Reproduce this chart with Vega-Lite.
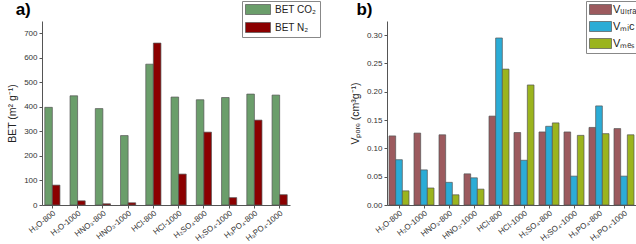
{
  "$schema": "https://vega.github.io/schema/vega-lite/v6.json",
  "padding": {"left": 7, "top": 0, "right": 0, "bottom": 0},
  "background": "white",
  "spacing": 29,
  "resolve": {"scale": {"color": "independent", "x": "independent", "xOffset": "independent", "y": "independent"}, "legend": {"color": "independent"}},
  "config": {
    "view": {"stroke": null},
    "font": "Liberation Sans",
    "axis": {"labelFont": "Liberation Sans", "titleFont": "Liberation Sans", "labelColor": "#333", "titleColor": "#222", "domainColor": "#555", "tickColor": "#555", "labelFontSize": 8, "titleFontSize": 10.5, "titleFontWeight": "normal", "grid": false, "tickSize": 3},
    "legend": {"labelFont": "Liberation Sans", "labelFontSize": 10, "labelColor": "#222"},
    "title": {"font": "Liberation Sans", "fontSize": 17, "fontWeight": "bold", "anchor": "start", "frame": "bounds", "offset": -18}
  },
  "datasets": {
    "bet": [
      {"sample": "H₂O-800", "series": "BET CO₂", "value": 398},
      {"sample": "H₂O-800", "series": "BET N₂", "value": 81},
      {"sample": "H₂O-1000", "series": "BET CO₂", "value": 445},
      {"sample": "H₂O-1000", "series": "BET N₂", "value": 17},
      {"sample": "HNO₃-800", "series": "BET CO₂", "value": 393},
      {"sample": "HNO₃-800", "series": "BET N₂", "value": 5},
      {"sample": "HNO₃-1000", "series": "BET CO₂", "value": 283},
      {"sample": "HNO₃-1000", "series": "BET N₂", "value": 9},
      {"sample": "HCl-800", "series": "BET CO₂", "value": 574},
      {"sample": "HCl-800", "series": "BET N₂", "value": 660},
      {"sample": "HCl-1000", "series": "BET CO₂", "value": 440},
      {"sample": "HCl-1000", "series": "BET N₂", "value": 126},
      {"sample": "H₂SO₄-800", "series": "BET CO₂", "value": 429},
      {"sample": "H₂SO₄-800", "series": "BET N₂", "value": 297},
      {"sample": "H₂SO₄-1000", "series": "BET CO₂", "value": 438},
      {"sample": "H₂SO₄-1000", "series": "BET N₂", "value": 30},
      {"sample": "H₃PO₄-800", "series": "BET CO₂", "value": 452},
      {"sample": "H₃PO₄-800", "series": "BET N₂", "value": 346},
      {"sample": "H₃PO₄-1000", "series": "BET CO₂", "value": 448},
      {"sample": "H₃PO₄-1000", "series": "BET N₂", "value": 42}
    ],
    "vpore": [
      {"sample": "H₂O-800", "series": "Vᵤₗₜᵣₐ", "value": 0.122},
      {"sample": "H₂O-800", "series": "Vₘᵢc", "value": 0.080},
      {"sample": "H₂O-800", "series": "Vₘₑₛ", "value": 0.025},
      {"sample": "H₂O-1000", "series": "Vᵤₗₜᵣₐ", "value": 0.127},
      {"sample": "H₂O-1000", "series": "Vₘᵢc", "value": 0.062},
      {"sample": "H₂O-1000", "series": "Vₘₑₛ", "value": 0.030},
      {"sample": "HNO₃-800", "series": "Vᵤₗₜᵣₐ", "value": 0.124},
      {"sample": "HNO₃-800", "series": "Vₘᵢc", "value": 0.040},
      {"sample": "HNO₃-800", "series": "Vₘₑₛ", "value": 0.018},
      {"sample": "HNO₃-1000", "series": "Vᵤₗₜᵣₐ", "value": 0.055},
      {"sample": "HNO₃-1000", "series": "Vₘᵢc", "value": 0.048},
      {"sample": "HNO₃-1000", "series": "Vₘₑₛ", "value": 0.028},
      {"sample": "HCl-800", "series": "Vᵤₗₜᵣₐ", "value": 0.157},
      {"sample": "HCl-800", "series": "Vₘᵢc", "value": 0.295},
      {"sample": "HCl-800", "series": "Vₘₑₛ", "value": 0.240},
      {"sample": "HCl-1000", "series": "Vᵤₗₜᵣₐ", "value": 0.128},
      {"sample": "HCl-1000", "series": "Vₘᵢc", "value": 0.079},
      {"sample": "HCl-1000", "series": "Vₘₑₛ", "value": 0.212},
      {"sample": "H₂SO₄-800", "series": "Vᵤₗₜᵣₐ", "value": 0.129},
      {"sample": "H₂SO₄-800", "series": "Vₘᵢc", "value": 0.139},
      {"sample": "H₂SO₄-800", "series": "Vₘₑₛ", "value": 0.145},
      {"sample": "H₂SO₄-1000", "series": "Vᵤₗₜᵣₐ", "value": 0.129},
      {"sample": "H₂SO₄-1000", "series": "Vₘᵢc", "value": 0.051},
      {"sample": "H₂SO₄-1000", "series": "Vₘₑₛ", "value": 0.123},
      {"sample": "H₃PO₄-800", "series": "Vᵤₗₜᵣₐ", "value": 0.137},
      {"sample": "H₃PO₄-800", "series": "Vₘᵢc", "value": 0.175},
      {"sample": "H₃PO₄-800", "series": "Vₘₑₛ", "value": 0.126},
      {"sample": "H₃PO₄-1000", "series": "Vᵤₗₜᵣₐ", "value": 0.135},
      {"sample": "H₃PO₄-1000", "series": "Vₘᵢc", "value": 0.051},
      {"sample": "H₃PO₄-1000", "series": "Vₘₑₛ", "value": 0.124}
    ]
  },
  "hconcat": [
    {
      "title": {"text": "a)", "dx": 8},
      "width": 248,
      "height": 184,
      "data": {"name": "bet"},
      "mark": {"type": "bar", "stroke": "#555", "strokeWidth": 0.7},
      "encoding": {
        "x": {"field": "sample", "type": "nominal", "sort": null, "title": null,
              "scale": {"paddingInner": 0.4, "paddingOuter": 0.11},
              "axis": {"labelAngle": -38, "ticks": true, "labelPadding": 1}},
        "xOffset": {"field": "series", "type": "nominal", "sort": ["BET CO₂", "BET N₂"]},
        "y": {"field": "value", "type": "quantitative", "title": "BET (m² g⁻¹)",
              "scale": {"domain": [0, 750], "nice": false},
              "axis": {"values": [0, 100, 200, 300, 400, 500, 600, 700], "titlePadding": 6}},
        "color": {"field": "series", "type": "nominal",
                  "scale": {"domain": ["BET CO₂", "BET N₂"], "range": ["#6b9e6b", "#8b0000"]},
                  "legend": {"title": null, "orient": "none", "legendX": 200, "legendY": -20,
                             "symbolType": "M-1,-1H4V1H-1Z", "symbolSize": 100,
                             "symbolStrokeColor": "#555", "symbolStrokeWidth": 0.7,
                             "strokeColor": "#888", "padding": 3, "rowPadding": 5, "labelOffset": 19}}
      }
    },
    {
      "title": {"text": "b)", "dx": 6},
      "width": 249,
      "height": 184,
      "data": {"name": "vpore"},
      "mark": {"type": "bar", "stroke": "#555", "strokeWidth": 0.7},
      "encoding": {
        "x": {"field": "sample", "type": "nominal", "sort": null, "title": null,
              "scale": {"paddingInner": 0.2, "paddingOuter": 0.08},
              "axis": {"labelAngle": -38, "ticks": true, "labelPadding": 1}},
        "xOffset": {"field": "series", "type": "nominal", "sort": ["Vᵤₗₜᵣₐ", "Vₘᵢc", "Vₘₑₛ"]},
        "y": {"field": "value", "type": "quantitative", "title": "Vₚₒᵣₑ (cm³g⁻¹)",
              "scale": {"domain": [0, 0.325], "nice": false},
              "axis": {"values": [0, 0.05, 0.1, 0.15, 0.2, 0.25, 0.3], "format": ".2f", "titlePadding": 6}},
        "color": {"field": "series", "type": "nominal",
                  "scale": {"domain": ["Vᵤₗₜᵣₐ", "Vₘᵢc", "Vₘₑₛ"], "range": ["#9c5a5e", "#2bacd6", "#9bb41e"]},
                  "legend": {"title": null, "orient": "none", "legendX": 199, "legendY": -20,
                             "symbolType": "M-1,-1H3.4V1H-1Z", "symbolSize": 100,
                             "symbolStrokeColor": "#555", "symbolStrokeWidth": 0.7,
                             "strokeColor": "#888", "padding": 3, "rowPadding": 4, "labelOffset": 13, "labelFontSize": 11}}
      }
    }
  ]
}
